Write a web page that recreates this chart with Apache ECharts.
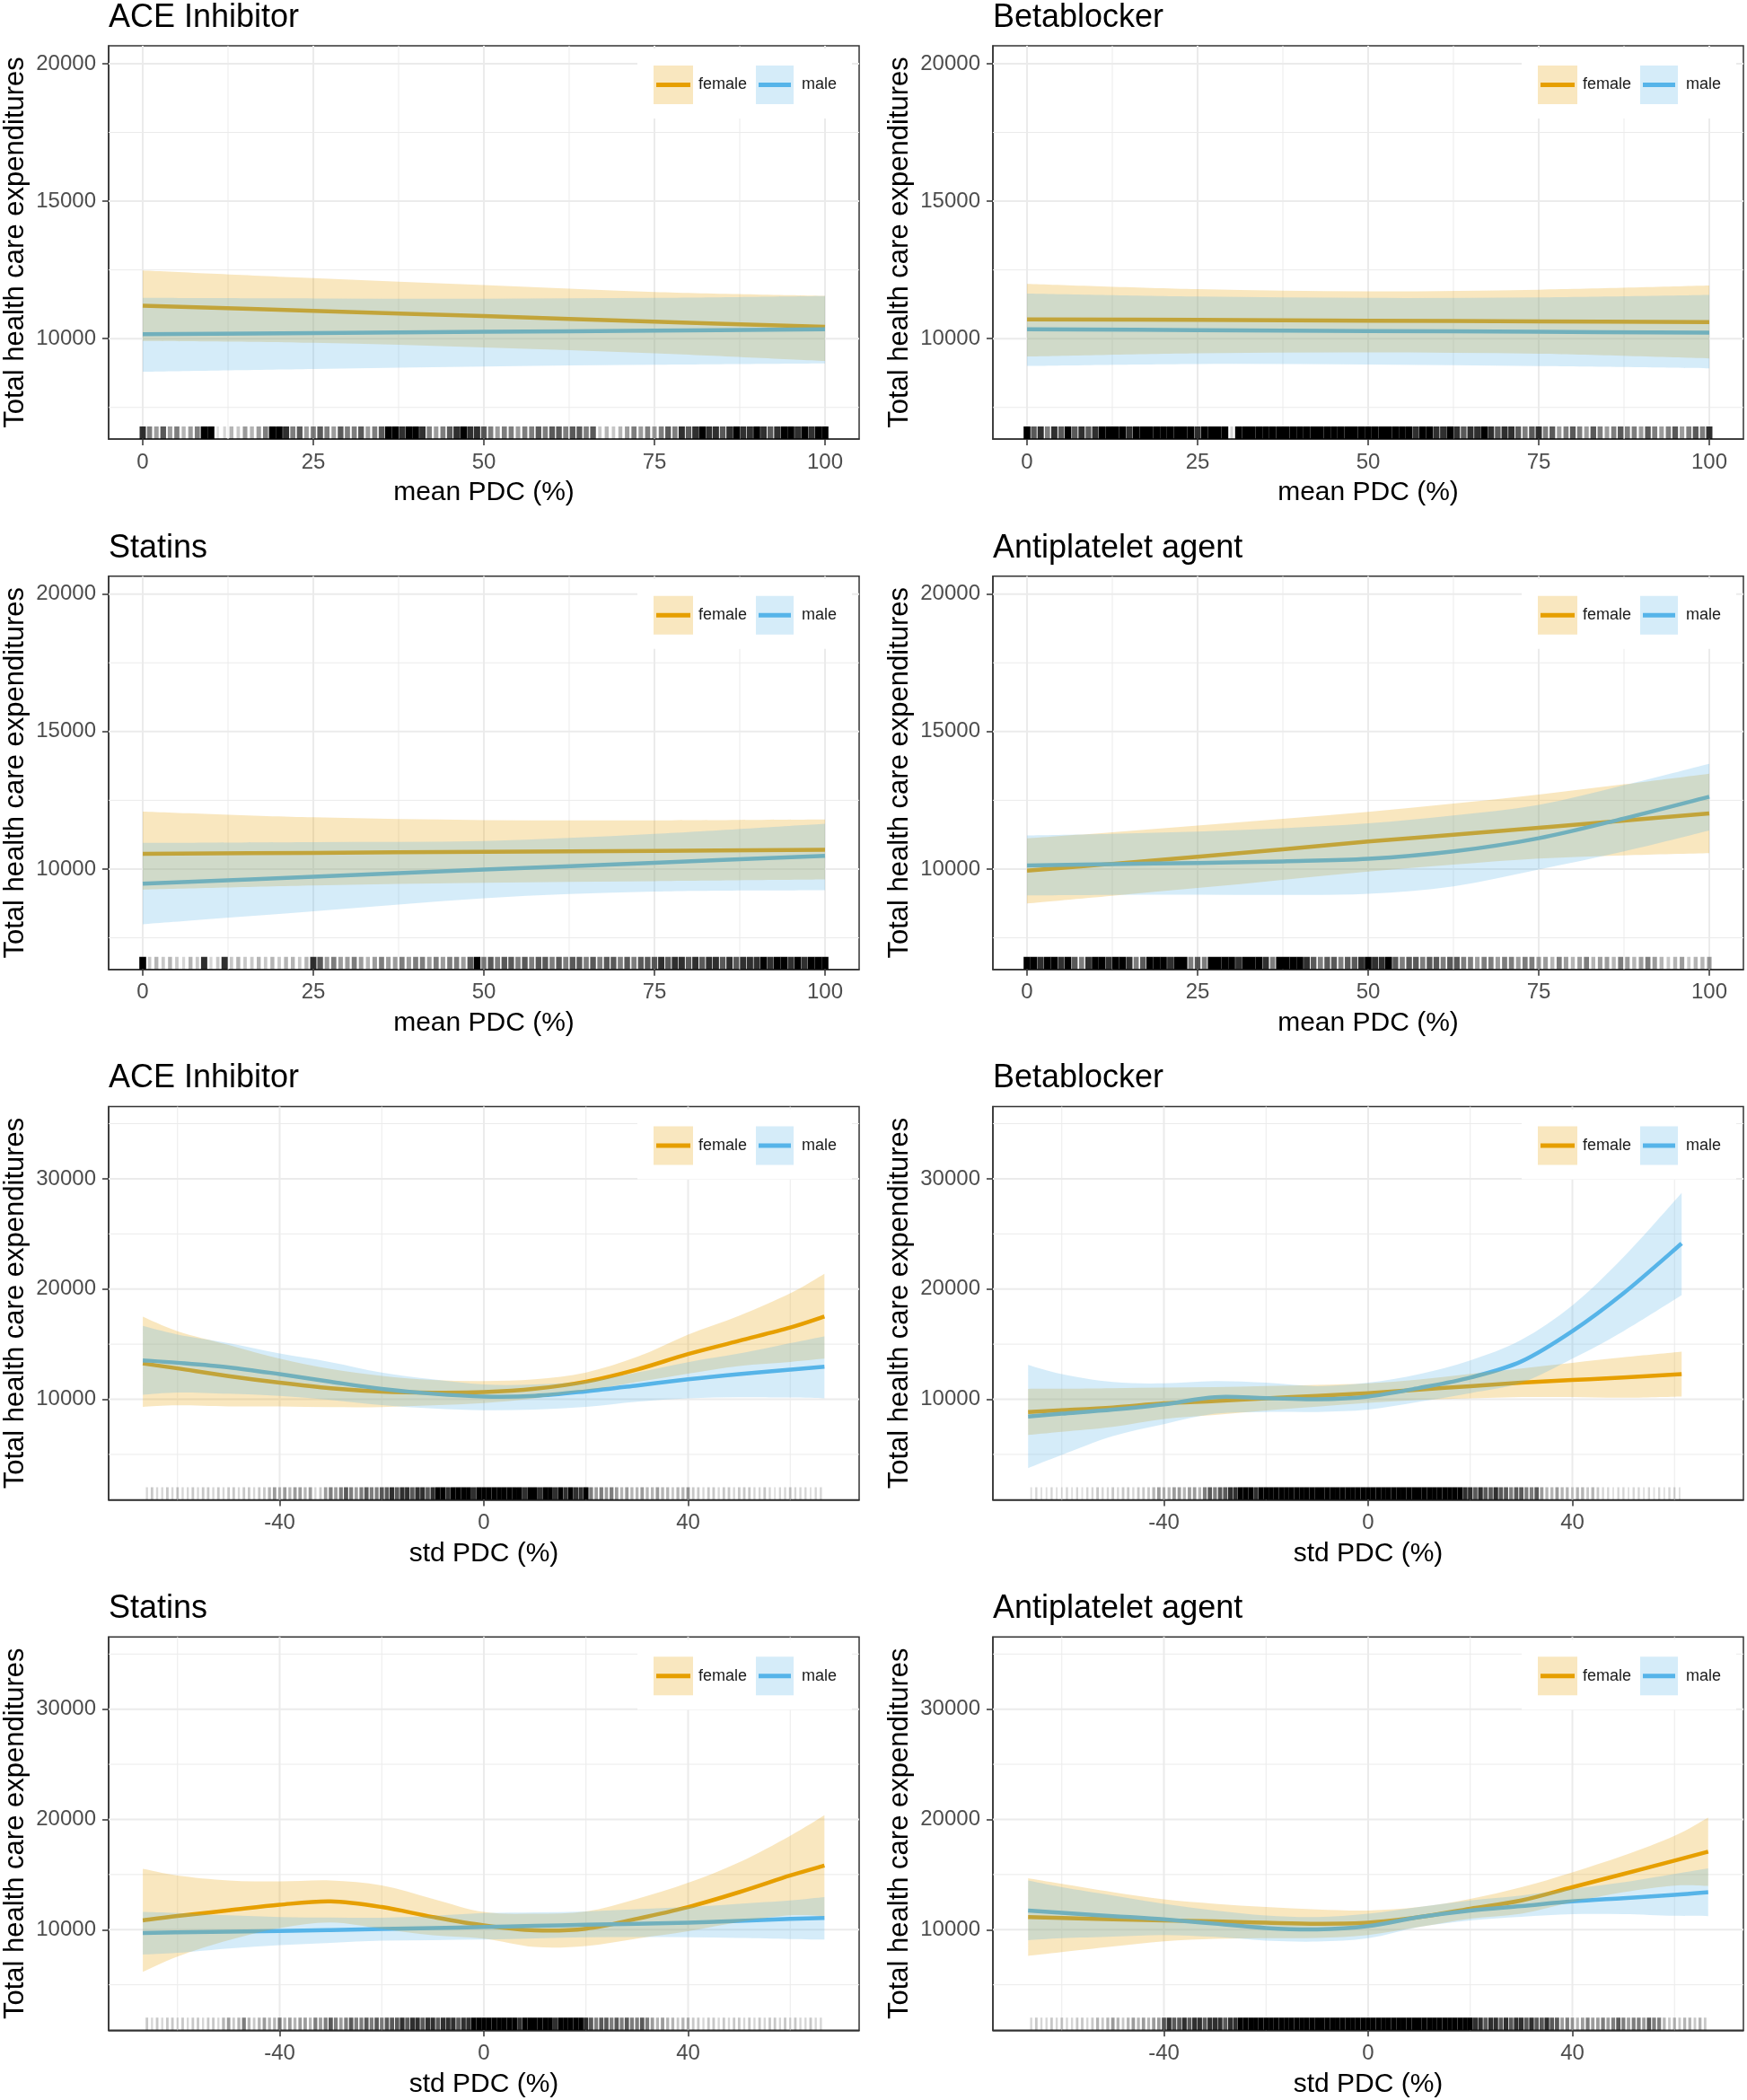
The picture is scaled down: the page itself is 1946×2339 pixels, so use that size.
<!DOCTYPE html>
<html><head><meta charset="utf-8">
<script src="https://cdn.jsdelivr.net/npm/echarts@6/dist/echarts.min.js"></script>
<style>html,body{margin:0;padding:0;background:#fff}#c{width:1946px;height:2339px}</style>
</head><body><div id="c"></div>
<script>
// ---------------- DATA ----------------
const titles = ['ACE Inhibitor','Betablocker','Statins','Antiplatelet agent','ACE Inhibitor','Betablocker','Statins','Antiplatelet agent'];
const xNames = ['mean PDC (%)','std PDC (%)'];
const yName = 'Total health care expenditures';
const seriesNames = ['female','male'];

const meanXRange = [-5, 105];
const stdXRange = [-73.5, 73.5];
const meanYRange = [6350, 20650];
const stdYRange = [880, 36550];
const meanXTicks = [0,25,50,75,100];
const meanXMinor = [12.5,37.5,62.5,87.5];
const stdXTicks = [-40,0,40];
const stdXMinor = [-60,-20,20,60];
const meanYTicks = [10000,15000,20000];
const meanYMinor = [7500,12500,17500];
const stdYTicks = [10000,20000,30000];
const stdYMinor = [5000,15000,25000,35000];

// ACE Inhibitor, mean PDC
const aceMeanX = [0,25,50,75,100];
const aceMeanF = [11200,11010,10820,10620,10430];
const aceMeanFLo = [9920,9850,9680,9470,9190];
const aceMeanFHi = [12480,12200,11950,11700,11560];
const aceMeanM = [10160,10200,10250,10290,10340];
const aceMeanMLo = [8800,8900,8990,9050,9100];
const aceMeanMHi = [11480,11460,11450,11480,11550];

// Betablocker, mean PDC
const betaMeanX = [0,25,50,75,100];
const betaMeanF = [10700,10680,10650,10630,10600];
const betaMeanFLo = [9350,9470,9500,9450,9280];
const betaMeanFHi = [11990,11800,11720,11780,11930];
const betaMeanM = [10340,10310,10280,10250,10220];
const betaMeanMLo = [9010,9080,9060,9000,8920];
const betaMeanMHi = [11640,11530,11480,11500,11590];

// Statins, mean PDC
const statMeanX = [0,25,50,75,100];
const statMeanF = [10550,10590,10630,10660,10700];
const statMeanFLo = [9250,9400,9500,9560,9620];
const statMeanFHi = [12090,11880,11780,11770,11800];
const statMeanM = [9470,9720,9980,10230,10480];
const statMeanMLo = [7990,8460,8940,9180,9230];
const statMeanMHi = [10950,10980,11020,11280,11650];

// Antiplatelet agent, mean PDC
const antiMeanX = [0,12.5,25,37.5,50,62.5,75,87.5,100];
const antiMeanF = [9940,10190,10450,10720,11000,11250,11500,11760,12020];
const antiMeanFLo = [8750,9030,9310,9610,9910,10160,10380,10500,10580];
const antiMeanFHi = [11120,11340,11580,11830,12080,12380,12710,13080,13470];
const antiMeanM = [10130,10180,10220,10280,10370,10640,11120,11840,12630];
const antiMeanMLo = [9040,9060,9070,9060,9100,9370,9980,10640,11400];
const antiMeanMHi = [11220,11280,11360,11480,11660,11950,12330,13050,13830];

// ACE Inhibitor, std PDC
const aceStdX = [-66.8,-60,-50,-40,-30,-20,-10,0,10,20,30,40,50,60,66.7];
const aceStdF = [13250,12800,12100,11500,11000,10700,10600,10650,10950,11600,12700,14100,15300,16500,17500];
const aceStdFLo = [9310,9450,9350,9350,9280,9290,9450,9650,10090,10770,11560,12330,13020,13390,13680];
const aceStdFHi = [17490,16180,14930,13680,12750,12120,11750,11650,11810,12430,13840,15870,17580,19610,21390];
const aceStdM = [13530,13310,12900,12280,11590,10940,10500,10250,10310,10720,11250,11810,12280,12680,12960];
const aceStdMLo = [10410,10620,10500,10310,9940,9470,9160,9000,9060,9310,9780,10090,10190,10160,10090];
const aceStdMHi = [16650,15870,15090,14150,13370,12430,11810,11340,11340,11650,12430,13370,14150,15090,15710];

// Betablocker, std PDC
const betaStdX = [-66.6,-60,-50,-40,-30,-20,-10,0,10,20,30,40,50,61.4];
const betaStdF = [8850,9000,9250,9630,9840,10090,10310,10560,10870,11190,11500,11750,11970,12280];
const betaStdFLo = [6760,7050,7500,8210,8580,8980,9320,9670,9940,10080,10200,10200,10140,10250];
const betaStdFHi = [10940,10950,11000,11050,11100,11200,11300,11450,11800,12300,12800,13300,13800,14310];
const betaStdM = [8440,8690,9060,9530,10190,10100,10000,10250,11030,11970,13430,16180,19610,24130];
const betaStdMLo = [3760,4950,6660,7750,8690,8850,8850,9060,9780,10560,11500,13680,16180,19450];
const betaStdMHi = [13120,12280,11560,11440,11650,11500,11190,11500,12280,13530,15400,18520,22890,28720];

// Statins, std PDC
const statStdX = [-66.8,-60,-50,-40,-30,-20,-10,0,10,20,30,40,50,60,66.7];
const statStdF = [10840,11240,11750,12260,12560,12050,11150,10390,9940,10090,10990,12050,13400,14910,15810];
const statStdFLo = [6170,7560,9040,10150,10660,10090,9490,9190,8430,8520,9190,9850,10690,11300,11230];
const statStdFHi = [15510,14910,14460,14370,14460,14010,12800,11600,11450,11660,12800,14250,16110,18520,20390];
const statStdM = [9700,9750,9810,9880,9970,10060,10150,10240,10340,10440,10530,10630,10800,10970,11050];
const statStdMLo = [7740,7900,8300,8600,8800,9000,9050,9100,9200,9300,9320,9300,9250,9150,9100];
const statStdMHi = [11600,11510,11300,11150,11100,11080,11250,11500,11560,11660,11850,12050,12350,12650,12950];

// Antiplatelet agent, std PDC
const antiStdX = [-66.6,-60,-50,-40,-30,-20,-10,0,10,20,30,40,50,60,66.6];
const antiStdF = [11140,11050,10930,10840,10750,10630,10540,10630,11140,11900,12650,13850,15050,16260,17070];
const antiStdFLo = [7620,7960,8470,8950,9160,9220,9250,9520,10240,11000,11450,12500,13400,14000,13970];
const antiStdFHi = [14660,14150,13400,12740,12350,12050,11840,11740,12050,12800,13850,15200,16710,18510,20170];
const antiStdM = [11740,11530,11230,10930,10540,10150,10030,10330,11140,11740,12140,12560,12860,13160,13400];
const antiStdMLo = [9040,9220,9370,9520,9340,9010,8920,9220,10240,10840,11170,11410,11410,11260,11230];
const antiStdMHi = [14450,13850,13100,12350,11740,11290,11140,11440,12050,12650,13100,13700,14300,15050,15560];

// Rug density per 1-unit bin (0 = none ... 9 = solid), first bin at rug start value
const meanRugStart = 0;
const stdRugStart = -66;
const aceMeanRug = [8,6,5,7,5,6,4,5,6, 9,9, 1,2, 4,3,5,4,5,6, 9,9,8, 6,7,5,6,7,6,5,7,6,6,7,5,6,7, 9,9,8,9,9,8, 6,5,6,7, 8,9,8,8,7, 6,5,6,6,5,6,6, 7,6,7,7,6,7,7,6,7, 3,4,3,4, 5,6,5,6,5,6,7,6, 8,7,8,9,8,8,7,8,9,8,8,9,8,7,8,9,9,8,9,8,9,9];
const betaMeanRug = [9,7,8,6,8,7,9,7,8,7,8, 9,9,9,9,8,9,9,9,9,9,9,9,9,9,8,9,9,9,9, 2, 9,9,9,9,9,9,9,9,9,9,9,9,9,9,9,9,9,9,9,9,9,9,9,9,9,9,8,9,9, 8,8,9,8,7,8,8,9,8,7,8,8, 7,6,7,8,6,7,5,6,7,6,5,7,6,5,6,7,6, 6,5,7,6,5,6,7,5,6,7,6,8];
const statMeanRug = [9, 3,4,3,4,3,2,4,3, 8, 2,3, 8, 3,4,3,3,4,3,4,3,4,4,3,4, 8,7, 5,6,5,5,6,5,4,5,6,5, 5,6,5,6,6,5,6,5,6,6,5,7, 9, 6,7,6,7,7,6,7,6,7,7,6,7,6,7,7,6,7,6,7,7,6,7,6,7,7, 7,8,7,8,8,7,8,7,8,8,7,8,7,8,8, 8,9,8,9,9,8,9,8,9,9,9];
const antiMeanRug = [9,9,8,9,9,8,9, 7,6,8, 9,9,8,9,9,8, 6,7, 9,9,9,8,9,9, 6,7,6, 9,9,9,9,8,9,9,9,8, 6, 9,9,9,9,8, 7,6,7,7,6,7,7, 8,9,8,8,9, 7,6,7,7,6,7,7,6,7,7,6, 6,5,6,6,5,6,6,5,6,6,5, 5,4,6,5,4,5,6,4,5,5,4,6,5,4,5,6,5, 4,3,4,5,3,4,4,5];
const aceStdRug = [2,3,2,2,3,2,3,2,2,3,2,3,3,2,3,2,3,3,2,3,3,2,3,3, 4,5,4,5,4,5,5,4,5, 2,3,5, 6,5,6,7,6,5,6,7,6,6,7, 7,8,7,8,8,7,8,8,7,8, 9,9,8,9,9,9,9,8,9,9,9,9,9,9,9,9,9,8,9,9,8,9,9,8,9,8,9,8,8,9, 6,5,6,5,6,5, 4,5,4,4,5,4,4,5,4,4,3,4,4,5, 3,3,2,3,3,2,3,3,2,3,3,3, 2,2,3,2,1,2,2,3,2,2,2,1,2,2];
const betaStdRug = [1,2,1,1,2,1,1,2,1,2,1,2, 2,3,2,2,3,2,3,3,2,3,3,3, 4,5,4,4,5,5,4,5,5,4, 6,7,6,7,7,8, 8,9,9,9,8,9,9,9,9,9,9,9,9,9,9,9,9,9,9,9,9,9,9,9,9,9,9,9,9,9,9,9,9,9,9,9,9,9,9,9,9,9,9,9,9,8, 8,7,8,7,7,8,7,7,6,7,7,6,6,7, 5,4,4,5,4,4,3,4,4,3,4,3, 2,2,1,2,2,1,2,2,1,2,1,2,1,2,2,1];
const statStdRug = [3,2,3,2,3,3,2,3,2,3,3,2,3,3,2, 4,5,3,4,6,4,3,4,5,4,4,6,4,5,4,5,5,4, 6,5,6,7,6,5,6,7,6,6,7,6,7,6,7,7, 7,8,7,8,8,7,8,8,7,8,8,8,7,8,8,9, 9,9,9,9,9,9,9,9,8,9,9,9,9,9,9,8,9,9,9,9,9,8, 7,6,7,7,6,7,6,7,6,6,7,6,5, 4,5,4,4,3,4,4,3, 3,2,3,3,2,3,2,3,3,2,3,2,3,2,3,3,2,3,2,3,2,2,3,2,2];
const antiStdRug = [2,3,2,2,3,2,3,2,2,3,3,2,3, 4,3,4,5,4,3,4,5,4,5,4,5,5, 7,8,7,7,8,7,8,8,7,8,8,8,7,8,8, 9,9,9,9,9,9,9,9,9,9,9,9,9,9,9,9,9,9,9,9,9,9,9,9,9,9,9,9,9,9,9,9,9,9,9,9,9,9,9,9,9,9,9,9,9,9,8, 8,7,8,8,7,8,7,8,8,7,8,7,7,8,7,7, 5,6,5,4,5,6,5,5, 6,5,6,7,6,5,6,6,5,7,6,6, 4,3,4,3,4,4,3,4,3];

// ---------------- BUILD ----------------
const FONT = '"Liberation Sans", Arial, sans-serif';
const FEMALE = '#E69F00', MALE = '#56B4E9';
const FEMALE_FILL = 'rgba(230,159,0,0.25)', MALE_FILL = 'rgba(86,180,233,0.25)';
const colLeft = [121, 1106], gridW = 836, gridH = 438;
const rowTop = [51, 641.75, 1232.5, 1823.25];
const RUG = 14;

const panels = [
  {kind:0, x:aceMeanX, f:[aceMeanF,aceMeanFLo,aceMeanFHi], m:[aceMeanM,aceMeanMLo,aceMeanMHi], rug:aceMeanRug},
  {kind:0, x:betaMeanX, f:[betaMeanF,betaMeanFLo,betaMeanFHi], m:[betaMeanM,betaMeanMLo,betaMeanMHi], rug:betaMeanRug},
  {kind:0, x:statMeanX, f:[statMeanF,statMeanFLo,statMeanFHi], m:[statMeanM,statMeanMLo,statMeanMHi], rug:statMeanRug},
  {kind:0, x:antiMeanX, f:[antiMeanF,antiMeanFLo,antiMeanFHi], m:[antiMeanM,antiMeanMLo,antiMeanMHi], rug:antiMeanRug},
  {kind:1, x:aceStdX, f:[aceStdF,aceStdFLo,aceStdFHi], m:[aceStdM,aceStdMLo,aceStdMHi], rug:aceStdRug},
  {kind:1, x:betaStdX, f:[betaStdF,betaStdFLo,betaStdFHi], m:[betaStdM,betaStdMLo,betaStdMHi], rug:betaStdRug},
  {kind:1, x:statStdX, f:[statStdF,statStdFLo,statStdFHi], m:[statStdM,statStdMLo,statStdMHi], rug:statStdRug},
  {kind:1, x:antiStdX, f:[antiStdF,antiStdFLo,antiStdFHi], m:[antiStdM,antiStdMLo,antiStdMHi], rug:antiStdRug}
];

// Catmull-Rom -> cubic bezier segments through pixel points
function curveSegs(pts) {
  let d = '';
  for (let i = 0; i < pts.length - 1; i++) {
    const p0 = pts[Math.max(i - 1, 0)], p1 = pts[i], p2 = pts[i + 1], p3 = pts[Math.min(i + 2, pts.length - 1)];
    const c1x = p1[0] + (p2[0] - p0[0]) / 6, c1y = p1[1] + (p2[1] - p0[1]) / 6;
    const c2x = p2[0] - (p3[0] - p1[0]) / 6, c2y = p2[1] - (p3[1] - p1[1]) / 6;
    d += ' C' + c1x.toFixed(2) + ',' + c1y.toFixed(2) + ' ' + c2x.toFixed(2) + ',' + c2y.toFixed(2) + ' ' + p2[0].toFixed(2) + ',' + p2[1].toFixed(2);
  }
  return d;
}
function ribbonRenderer(xs, lo, hi, fill) {
  return function (params, api) {
    if (params.dataIndex !== 0) return null;
    const up = xs.map((v, j) => api.coord([v, hi[j]]));
    const dn = xs.map((v, j) => api.coord([v, lo[j]])).reverse();
    const d = 'M' + up[0][0].toFixed(2) + ',' + up[0][1].toFixed(2) + curveSegs(up) +
      ' L' + dn[0][0].toFixed(2) + ',' + dn[0][1].toFixed(2) + curveSegs(dn) + ' Z';
    return {type:'path', shape:{pathData:d}, style:{fill:fill}};
  };
}
function lineRenderer(xs, ys, color) {
  return function (params, api) {
    if (params.dataIndex !== 0) return null;
    const pts = xs.map((v, j) => api.coord([v, ys[j]]));
    const d = 'M' + pts[0][0].toFixed(2) + ',' + pts[0][1].toFixed(2) + curveSegs(pts);
    return {type:'path', shape:{pathData:d}, style:{fill:null, stroke:color, lineWidth:4.5, lineCap:'butt', lineJoin:'round'}};
  };
}
function gridRenderer(xMaj, xMin, yMaj, yMin) {
  return function (params, api) {
    const cs = params.coordSys, ch = [];
    const addV = (v, w) => { const px = api.coord([v, 0])[0]; ch.push({type:'line', shape:{x1:px, y1:cs.y, x2:px, y2:cs.y + cs.height}, style:{stroke:'#EBEBEB', lineWidth:w}}); };
    const addH = (v, w) => { const py = api.coord([0, v])[1]; ch.push({type:'line', shape:{x1:cs.x, y1:py, x2:cs.x + cs.width, y2:py}, style:{stroke:'#EBEBEB', lineWidth:w}}); };
    xMin.forEach(v => addV(v, 1)); yMin.forEach(v => addH(v, 1));
    xMaj.forEach(v => addV(v, 2)); yMaj.forEach(v => addH(v, 2));
    return {type:'group', children:ch};
  };
}
// each rug bin: a stroke whose width and darkness follow the bin's density
function rugRenderer(params, api) {
  const x = api.value(0), d = api.value(1);
  if (!d) return null;
  const cs = params.coordSys;
  const t = d / 9;
  const w = 0.25 + 0.75 * t, a = 0.12 + 0.88 * t * t;
  const x0 = api.coord([x - w / 2, 0])[0], x1 = api.coord([x + w / 2, 0])[0];
  return {type:'rect', shape:{x:x0, y:cs.y + cs.height - RUG, width:Math.max(1, x1 - x0), height:RUG}, style:{fill:'rgba(0,0,0,' + a.toFixed(3) + ')'}};
}

const grids = [], xAxes = [], yAxes = [], series = [], titleOpt = [], graphics = [];
panels.forEach((p, i) => {
  const col = i % 2, row = Math.floor(i / 2);
  const left = colLeft[col], top = rowTop[row], right = left + gridW;
  const isMean = p.kind === 0;
  const xr = isMean ? meanXRange : stdXRange, yr = isMean ? meanYRange : stdYRange;
  const xt = isMean ? meanXTicks : stdXTicks, xm = isMean ? meanXMinor : stdXMinor;
  const yt = isMean ? meanYTicks : stdYTicks, ym = isMean ? meanYMinor : stdYMinor;

  grids.push({left:left, top:top, width:gridW, height:gridH, show:true, borderColor:'#333333', borderWidth:1.5, backgroundColor:'#ffffff'});
  xAxes.push({gridIndex:i, type:'value', min:xr[0], max:xr[1],
    name:xNames[p.kind], nameLocation:'middle', nameGap:45,
    nameTextStyle:{fontSize:30, color:'#000', fontFamily:FONT},
    axisLine:{show:true, onZero:false, lineStyle:{color:'#333333', width:1.5}},
    axisTick:{show:true, length:7, customValues:xt, lineStyle:{color:'#333333', width:1.5}},
    axisLabel:{customValues:xt, margin:14, fontSize:24, color:'#4D4D4D', fontFamily:FONT, formatter:v => String(v)},
    splitLine:{show:false}});
  yAxes.push({gridIndex:i, type:'value', min:yr[0], max:yr[1],
    name:yName, nameLocation:'middle', nameRotate:90, nameGap:88,
    nameTextStyle:{fontSize:31, color:'#000', fontFamily:FONT},
    axisLine:{show:true, onZero:false, lineStyle:{color:'#333333', width:1.5}},
    axisTick:{show:true, length:7, customValues:yt, lineStyle:{color:'#333333', width:1.5}},
    axisLabel:{customValues:yt, margin:14, fontSize:24, color:'#4D4D4D', fontFamily:FONT, formatter:v => String(v)},
    splitLine:{show:false}});
  titleOpt.push({text:titles[i], left:left, top:top - 49, padding:0,
    textStyle:{fontSize:36, fontWeight:'normal', color:'#000', fontFamily:FONT}});

  // gridlines
  series.push({type:'custom', xAxisIndex:i, yAxisIndex:i, silent:true, z:1,
    renderItem:gridRenderer(xt, xm, yt, ym), data:[[0, 0]]});

  // smoothed lines (drawn beneath the ribbons)
  [[p.f[0], FEMALE, seriesNames[0]], [p.m[0], MALE, seriesNames[1]]].forEach(([vals, color, nm]) => {
    series.push({type:'custom', name:nm, xAxisIndex:i, yAxisIndex:i, silent:true, z:3,
      renderItem:lineRenderer(p.x, vals, color),
      data:p.x.map((v, j) => [v, vals[j]]), encode:{x:0, y:1}});
  });
  // confidence ribbons
  [[p.f, FEMALE_FILL], [p.m, MALE_FILL]].forEach(([arr, fill], k) => {
    series.push({type:'custom', xAxisIndex:i, yAxisIndex:i, silent:true, z:4 + k,
      renderItem:ribbonRenderer(p.x, arr[1], arr[2], fill),
      data:p.x.map((v, j) => [v, arr[1][j], arr[2][j]]), encode:{x:0, y:[1, 2]}});
  });
  // rug
  const start = isMean ? meanRugStart : stdRugStart;
  series.push({type:'custom', xAxisIndex:i, yAxisIndex:i, silent:true, z:6,
    renderItem:rugRenderer, data:p.rug.map((d, j) => [start + j, d]), encode:{x:0, y:1}});

  // legend (inside top-right)
  const ly = top + 2;
  graphics.push({type:'rect', z:100, shape:{x:right - 247, y:ly + 1, width:239, height:78}, style:{fill:'#ffffff'}});
  graphics.push({type:'rect', z:101, shape:{x:right - 229, y:ly + 20, width:44, height:43}, style:{fill:FEMALE_FILL}});
  graphics.push({type:'line', z:102, shape:{x1:right - 226, y1:ly + 41.5, x2:right - 188, y2:ly + 41.5}, style:{stroke:FEMALE, lineWidth:5}});
  graphics.push({type:'text', z:102, x:right - 179, y:ly + 41.5, style:{text:seriesNames[0], fill:'#1a1a1a', font:'18px ' + FONT, textVerticalAlign:'middle', verticalAlign:'middle'}});
  graphics.push({type:'rect', z:101, shape:{x:right - 115, y:ly + 20, width:42, height:43}, style:{fill:MALE_FILL}});
  graphics.push({type:'line', z:102, shape:{x1:right - 112, y1:ly + 41.5, x2:right - 76, y2:ly + 41.5}, style:{stroke:MALE, lineWidth:5}});
  graphics.push({type:'text', z:102, x:right - 64, y:ly + 41.5, style:{text:seriesNames[1], fill:'#1a1a1a', font:'18px ' + FONT, textVerticalAlign:'middle', verticalAlign:'middle'}});
});

const chart = echarts.init(document.getElementById('c'), null, {renderer:'canvas'});
chart.setOption({
  backgroundColor:'#ffffff',
  animation:false,
  title:titleOpt,
  grid:grids,
  xAxis:xAxes,
  yAxis:yAxes,
  series:series,
  graphic:{elements:graphics}
});
</script></body></html>
